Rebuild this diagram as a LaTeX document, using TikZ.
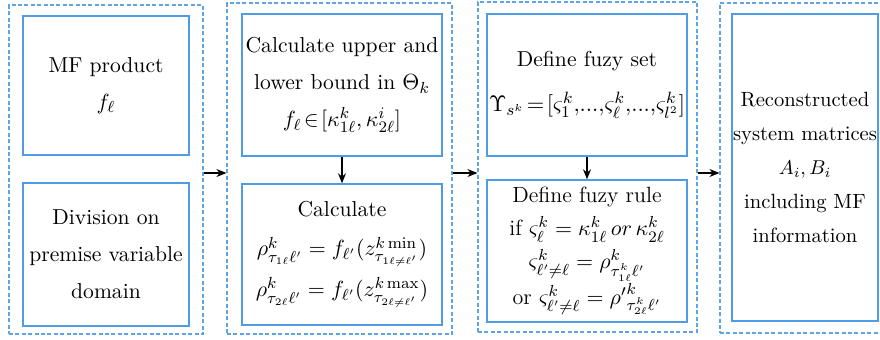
\documentclass[tikz,border=0pt]{standalone}
\usepackage{graphicx}
\usetikzlibrary{arrows.meta}
\definecolor{boxblue}{RGB}{80,155,230}
\definecolor{dashblue}{RGB}{95,165,230}
\begin{document}
\begin{tikzpicture}[x=0.5pt,y=-0.5pt,
  inbox/.style={draw=boxblue, line width=0.7pt, rectangle, inner sep=0pt, align=center,
    font=\fontsize{10.8}{18.5}\selectfont},
  outbox/.style={draw=dashblue, line width=0.6pt, dash pattern=on 2pt off 1.2pt, rectangle, inner sep=0pt},
  arr/.style={draw=black, line width=0.6pt, -{Stealth[length=5pt,width=4pt]}}]
\useasboundingbox (0,0) rectangle (880,339);
\clip (0,0) rectangle (880,339);
% outer dashed groups
\node[outbox, minimum width=97pt, minimum height=164.5pt] (o1) at (106,169.5) {};
\node[outbox, minimum width=112.5pt, minimum height=165.5pt] (o2) at (339.5,168.5) {};
\node[outbox, minimum width=109.5pt, minimum height=165pt] (o3) at (587.5,167) {};
\node[outbox, minimum width=85pt, minimum height=165pt] (o4) at (805,168) {};
% inner boxes
\node[inbox, minimum width=83pt, minimum height=69.5pt] (b1a) at (106,85.5)
  {MF product\\ $f_\ell$};
\node[inbox, minimum width=83pt, minimum height=71.5pt] (b1b) at (106,254.5)
  {Division on\\ premise variable\\ domain};
\node[inbox, minimum width=100pt, minimum height=71pt] (b2a) at (342,85)
  {Calculate upper and\\ lower bound in $\Theta_k$\\ $f_\ell\!\in\![\kappa^k_{1\ell},\kappa^i_{2\ell}]$};
\node[inbox, minimum width=100pt, minimum height=70.5pt] (b2b) at (342,254.5)
  {Calculate\\[1pt] $\rho^k_{\tau_{1\ell}\ell'}=f_{\ell'}(z^{k\min}_{\tau_{1\ell\neq\ell'}})$\\[2pt]
   $\rho^k_{\tau_{2\ell}\ell'}=f_{\ell'}(z^{k\max}_{\tau_{2\ell\neq\ell'}})$};
\node[inbox, minimum width=100pt, minimum height=71pt, text width=100pt] (b3a) at (587,85)
  {Define fuzy set\\[4pt] \resizebox{98pt}{!}{$\Upsilon_{s^k}\!=\![\varsigma^k_1,\!...,\!\varsigma^k_\ell,\!...,\!\varsigma^k_{l^2}]$}};
\node[inbox, minimum width=100pt, minimum height=71pt,
  font=\fontsize{11}{16.5}\selectfont] (b3b) at (587,251)
  {Define fuzy rule\\
   if $\varsigma^k_\ell=\kappa^k_{1\ell}\,or\,\kappa^k_{2\ell}$\\
   $\varsigma^k_{\ell'\neq\ell}=\rho^k_{\tau^k_{1\ell}\ell'}$\\
   or $\varsigma^k_{\ell'\neq\ell}={\rho'}^{k}_{\tau^k_{2\ell}\ell'}$};
\node[inbox, minimum width=73pt, minimum height=153.5pt,
  font=\fontsize{10.3}{17}\selectfont] (b4) at (805,167.5)
  {Reconstructed\\ system matrices\\ $A_i,B_i$\\ including MF\\ information};
% connectors
\coordinate (ay) at (0,173);
\draw[arr] (o1.east |- ay) -- (o2.west |- ay);
\draw[arr] (o2.east |- ay) -- (o3.west |- ay);
\draw[arr] (o3.east |- ay) -- (o4.west |- ay);
\draw[arr] (b2a.south) -- (b2b.north);
\draw[arr] (b3a.south) -- (b3b.north);
\end{tikzpicture}
\end{document}
